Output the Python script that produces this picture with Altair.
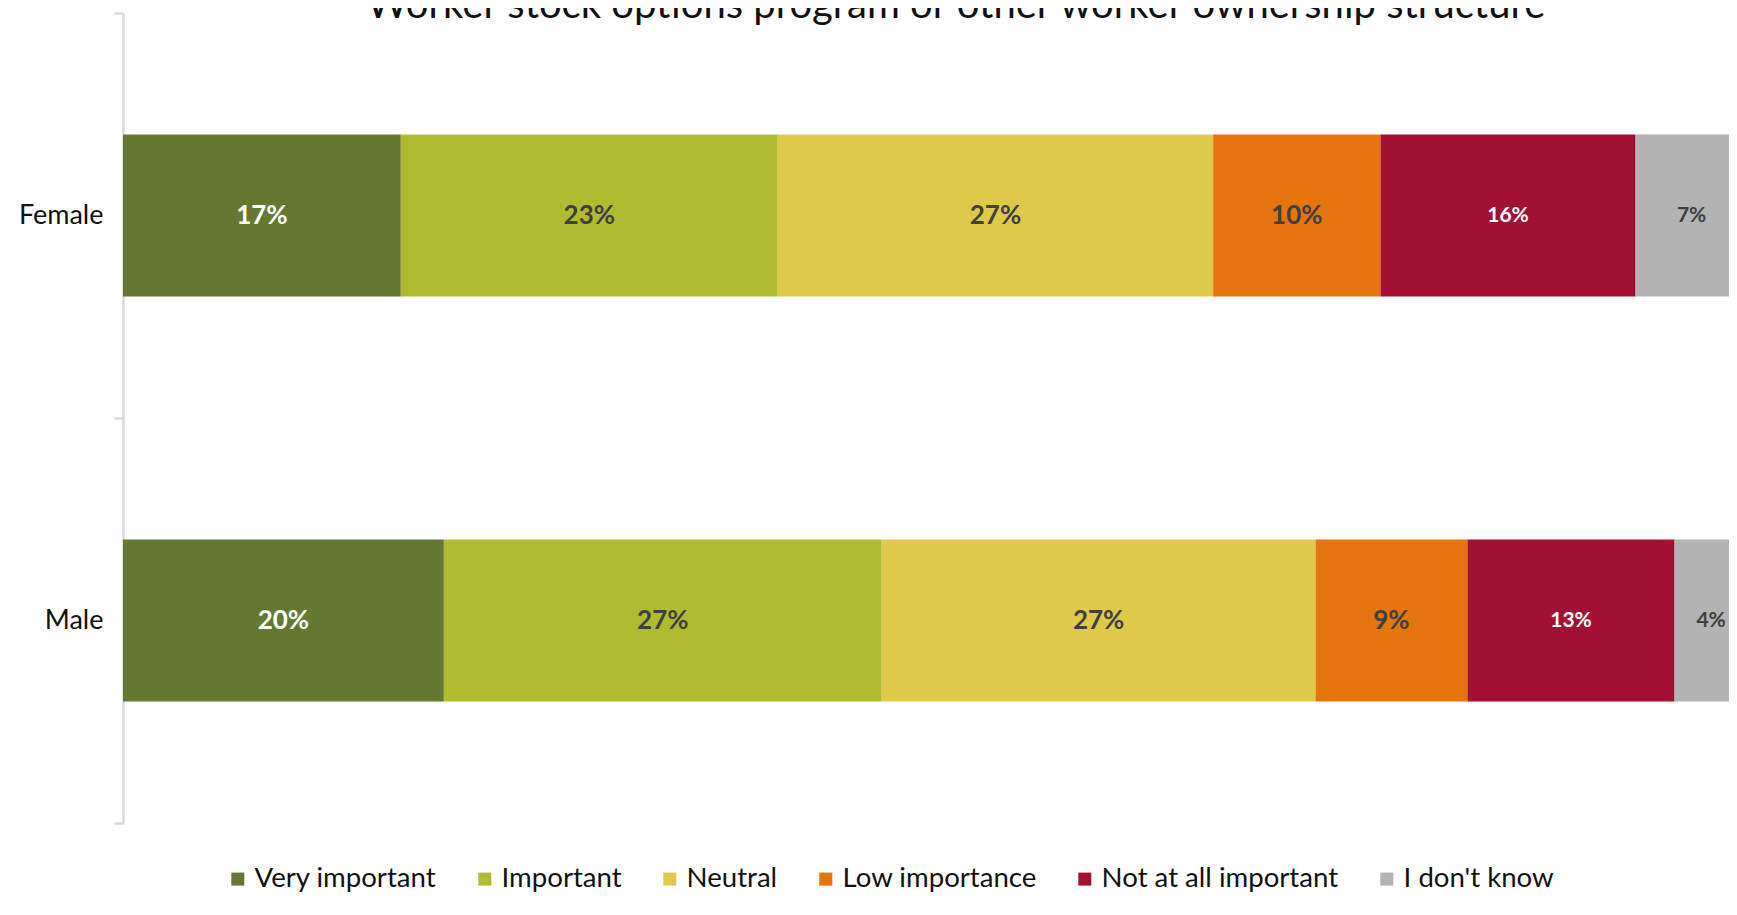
import altair as alt
import pandas as pd

# ---- data ----
genders = ["Female", "Male"]
categories = ["Very important", "Important", "Neutral", "Low importance",
              "Not at all important", "I don't know"]
female_values = [17.10, 23.20, 26.80, 10.30, 15.70, 6.90]
male_values = [19.75, 26.95, 26.70, 9.35, 12.75, 4.50]
female_labels = ["17%", "23%", "27%", "10%", "16%", "7%"]
male_labels = ["20%", "27%", "27%", "9%", "13%", "4%"]
title_text = "Worker stock options program or other worker ownership structure"

# ---- styles ----
colors = ["#657832", "#b1bb32", "#dfc94b", "#e5750e", "#a21034", "#b3b3b3"]
label_colors = ["#ffffff", "#404040", "#404040", "#404040", "#ffffff", "#404040"]
label_sizes = [26, 26, 26, 26, 21, 21]
FONT = "Lato"

rows = []
for g, vals, labs in zip(genders, [female_values, male_values], [female_labels, male_labels]):
    for i, (c, v, l) in enumerate(zip(categories, vals, labs)):
        rows.append({"gender": g, "category": c, "value": v, "order": i,
                     "label": l, "lcolor": label_colors[i], "lsize": label_sizes[i]})
df = pd.DataFrame(rows)

PLOT_W = 1606
PLOT_H = 810

base = alt.Chart(df).transform_stack(
    stack="value",
    groupby=["gender"],
    as_=["x0", "x1"],
    sort=[alt.SortField("order", order="ascending")],
).transform_calculate(mid="(datum.x0 + datum.x1) / 2")

y_enc = alt.Y(
    "gender:N",
    sort=genders,
    scale=alt.Scale(paddingInner=0, paddingOuter=0),
    axis=alt.Axis(
        title=None, tickBand="extent", domainColor="#d9d9d9", tickColor="#d9d9d9",
        domainWidth=2.5, tickWidth=2.5, tickSize=9, labelPadding=11,
        labelFont=FONT, labelFontSize=27, labelColor="#111111",
    ),
)

xscale = alt.Scale(domain=[0, 98.85], nice=False, zero=True)

bars = base.mark_bar(height={"band": 0.4}, clip=True).encode(
    x=alt.X("x0:Q", scale=xscale, axis=None),
    x2="x1:Q",
    y=y_enc,
    color=alt.Color(
        "category:N",
        scale=alt.Scale(domain=categories, range=colors),
        legend=alt.Legend(
            orient="none", legendX=101, legendY=852, direction="horizontal",
            title=None, symbolType="square", symbolSize=169, symbolStrokeWidth=0,
            symbolOpacity=1, labelFont=FONT, labelFontSize=27.6, labelColor="#111111",
            labelOffset=3, columnPadding=34, padding=0, labelLimit=0,
        ),
    ),
)

texts = base.mark_text(font=FONT, fontWeight="bold", align="center", baseline="middle").encode(
    x=alt.X("mid:Q", scale=xscale, axis=None),
    y=y_enc,
    text="label:N",
    color=alt.Color("lcolor:N", scale=None),
    size=alt.Size("lsize:Q", scale=None),
)

# chart title (partly cut by the top edge, as in the reference)
title_df = pd.DataFrame({"title": [title_text]})
title = alt.Chart(title_df).mark_text(
    font=FONT, fontSize=40, color="#111111", align="center", baseline="alphabetic"
).encode(
    text="title:N",
    x=alt.value(833),
    y=alt.value(5),
)

chart = alt.layer(bars, texts, title).properties(
    width=PLOT_W,
    height=PLOT_H,
    autosize=alt.AutoSizeParams(type="none"),
    padding={"left": 115, "top": 5, "right": 0, "bottom": 75},
    background="white",
).configure_view(strokeWidth=0)

chart.save("out.html", embed_options={"renderer": "svg", "actions": False})
